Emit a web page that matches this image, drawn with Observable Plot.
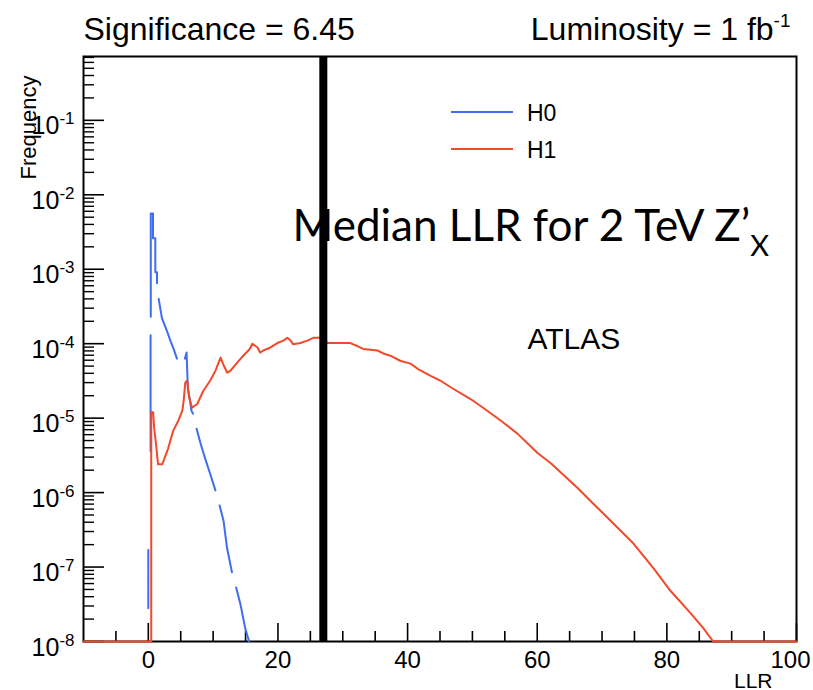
<!DOCTYPE html>
<html><head><meta charset="utf-8">
<script src="https://cdn.jsdelivr.net/npm/d3@7"></script>
<script src="https://cdn.jsdelivr.net/npm/@observablehq/plot@0.6"></script>
<style>
html,body{margin:0;padding:0;background:#fff;}
#wrap{position:relative;width:813px;height:690px;overflow:hidden;}
.legline{position:absolute;height:0;}
.legtxt{position:absolute;font-family:'Liberation Sans',Arial,sans-serif;font-size:23px;line-height:23px;color:#000;}
</style></head>
<body><div id="wrap"></div>
<script>
// ---- data ----
const seriesNames = ["H0", "H1"];
const seriesColors = ["#3f6df0", "#f2492b"];

// H0: null entries are the gaps visible in the drawn histogram
const h0LLR = [0.0, 0.0, null,
  0.35, 0.35, null,
  0.38, 0.38, 0.72, 0.72, 1.08, 1.08, 1.34, 1.34, null,
  1.6, 2.1, 2.88, 3.4, 3.9, 4.42, null,
  5.65, 5.9, 6.1, 6.35, 6.65, 6.9, null,
  7.45, 8.05, 8.75, 9.55, 10.35, null,
  11.0, 11.6, 12.15, 12.9, null,
  13.55, 14.2, 14.95, 15.55];
const h0Freq = [2.8e-8, 1.7e-7, null,
  3.6e-6, 1.3e-4, null,
  2.3e-4, 5.6e-3, 5.6e-3, 2.6e-3, 2.6e-3, 9.1e-4, 9.1e-4, 6.5e-4, null,
  4.0e-4, 2.2e-4, 1.48e-4, 1.1e-4, 8.5e-5, 6.3e-5, null,
  6.3e-5, 7.6e-5, 2.5e-5, 1.9e-5, 1.26e-5, 1.15e-5, null,
  7.2e-6, 4.6e-6, 2.9e-6, 1.78e-6, 1.07e-6, null,
  6.7e-7, 4.2e-7, 1.8e-7, 8.5e-8, null,
  5.3e-8, 3.2e-8, 1.5e-8, 1e-8];

const h1LLR = [-10, 0.45, 0.45, 0.75, 0.9, 1.25, 1.5, 2.15, 3.05, 3.85, 4.65, 5.25, 5.45, 5.7, 6.0,
  6.3, 6.75, 7.55, 8.45, 9.55, 10.35, 11.15, 11.55, 12.15, 12.65, 13.75, 14.65, 15.65, 16.05,
  16.85, 17.25, 17.75, 18.85, 19.9, 20.85, 21.45, 21.95, 22.35, 23.45, 24.55, 25.45, 26.65,
  27.65, 31.15, 32.25, 33.15, 35.35, 36.25, 37.35, 38.85, 40.45, 41.55, 43.55, 45.05, 46.65,
  49.65, 51.65, 54.35, 56.95, 60.05, 62.05, 66.15, 68.65, 70.85, 74.85, 77.95, 80.55, 83.65,
  85.65, 87.15, 100];
const h1Freq = [1e-8, 1e-8, 1.2e-5, 1.2e-5, 7.4e-6, 4e-6, 2.4e-6, 2.4e-6, 3.9e-6, 6.8e-6, 9.3e-6, 1.26e-5, 1.7e-5, 3.0e-5, 3.2e-5,
  1.9e-5, 1.38e-5, 1.55e-5, 2.3e-5, 3.2e-5, 4.3e-5, 6.5e-5, 5.3e-5, 4.1e-5, 4.3e-5, 5.6e-5, 6.9e-5, 8.5e-5, 1.0e-4,
  8.9e-5, 7.6e-5, 8.1e-5, 8.9e-5, 1.02e-4, 1.1e-4, 1.2e-4, 1.1e-4, 9.8e-5, 1.02e-4, 1.1e-4, 1.2e-4, 1.2e-4,
  1.02e-4, 1.02e-4, 9.3e-5, 8.5e-5, 8.1e-5, 7.4e-5, 6.9e-5, 5.9e-5, 5.4e-5, 4.6e-5, 3.7e-5, 3.2e-5, 2.6e-5,
  1.82e-5, 1.38e-5, 9.3e-6, 6.2e-6, 3.4e-6, 2.5e-6, 1.17e-6, 7.1e-7, 4.6e-7, 2.07e-7, 9.6e-8, 4.8e-8, 2.4e-8,
  1.5e-8, 1e-8, 1e-8];

const medianLLR = [27.0];

const yMajor = [1e-8, 1e-7, 1e-6, 1e-5, 1e-4, 1e-3, 1e-2, 1e-1];
const yBase = "10";
const yExp = ["-8", "-7", "-6", "-5", "-4", "-3", "-2", "-1"];
const xMajor = [0, 20, 40, 60, 80, 100];
const xMinor = [-5, 5, 10, 15, 25, 30, 35, 45, 50, 55, 65, 70, 75, 85, 90, 95];
const xLabels = ["0", "20", "40", "60", "80", "100"];

const titleLeft = "Significance = 6.45";
const titleRight = "Luminosity = 1 fb";
const titleRightSup = "-1";
const annotation = "Median LLR for 2 TeV Z\u2019";
const annotationSub = "X";
const experiment = "ATLAS";
const xTitle = "LLR";
const yTitle = "Frequency";

// ---- layout ----
const W = 813, H = 690, mL = 83, mR = 17, mT = 56, mB = 49;
const innerW = W - mL - mR, innerH = H - mT - mB;
const yMax = 0.72;
const yMinor = [];
for (const d of yMajor) for (let k = 2; k <= 9; k++) { const v = k * d; if (v <= yMax) yMinor.push(v); }

const h0 = h0LLR.map((x, i) => ({x, y: h0Freq[i]}));
const h1 = h1LLR.map((x, i) => ({x, y: h1Freq[i]}));

const SANS = "'Liberation Sans', Arial, Helvetica, sans-serif";

const chart = Plot.plot({
  width: W, height: H,
  marginLeft: mL, marginRight: mR, marginTop: mT, marginBottom: mB,
  x: {domain: [-10, 100], axis: null},
  y: {type: "log", domain: [1e-8, yMax], axis: null},
  style: {fontFamily: SANS, background: "white", color: "black", overflow: "visible"},
  marks: [
    Plot.frame({stroke: "black", strokeWidth: 2}),
    Plot.tickY(yMinor, {y: d => d, insetRight: innerW - 11, stroke: "black", strokeWidth: 1.4}),
    Plot.tickY(yMajor, {y: d => d, insetRight: innerW - 21, stroke: "black", strokeWidth: 1.6}),
    Plot.tickX(xMinor, {x: d => d, insetTop: innerH - 10, stroke: "black", strokeWidth: 1.6}),
    Plot.tickX(xMajor, {x: d => d, insetTop: innerH - 18, stroke: "black", strokeWidth: 1.6}),
    Plot.line(h0, {x: "x", y: "y", stroke: seriesColors[0], strokeWidth: 2}),
    Plot.line(h1, {x: "x", y: "y", stroke: seriesColors[1], strokeWidth: 2}),
    Plot.ruleX(medianLLR, {x: d => d, stroke: "black", strokeWidth: 8}),
    Plot.text(yMajor, {y: d => d, text: () => yBase, frameAnchor: "left", dx: -9, dy: 14, textAnchor: "end", lineAnchor: "bottom", fontSize: 25}),
    Plot.text(xMajor, {x: d => d, text: (d, i) => xLabels[i], frameAnchor: "bottom", dy: 26, lineAnchor: "bottom", fontSize: 24}),
    Plot.text([xTitle], {text: d => d, frameAnchor: "bottom-right", dx: -24, dy: 46, textAnchor: "end", lineAnchor: "bottom", fontSize: 21}),
    Plot.text([yTitle], {text: d => d, frameAnchor: "top-left", dx: -48, dy: 19, rotate: -90, textAnchor: "end", lineAnchor: "bottom", fontSize: 22}),
    Plot.text([titleLeft], {text: d => d, frameAnchor: "top-left", dx: 0, dy: -17, textAnchor: "start", lineAnchor: "bottom", fontSize: 32}),
    Plot.text([titleRight], {text: d => d, frameAnchor: "top-right", dx: -6, dy: -17, textAnchor: "end", lineAnchor: "bottom", fontSize: 32}),
    Plot.text([annotation], {text: d => d, frameAnchor: "top-left", dx: 209, dy: 184, textAnchor: "start", lineAnchor: "bottom", fontSize: 44, fontFamily: "Lato, 'Open Sans', sans-serif"}),
    Plot.text([experiment], {text: d => d, frameAnchor: "top-left", dx: 444, dy: 292, textAnchor: "start", lineAnchor: "bottom", fontSize: 30})
  ]
});

// superscripts / subscripts as tspans (texts found by their content)
const allTexts = Array.from(chart.querySelectorAll("text"));
const yLabelNodes = allTexts.filter(t => t.textContent === yBase);
yLabelNodes.forEach((t, i) => {
  d3.select(t).append("tspan").attr("font-size", 17).attr("dy", -10).text(yExp[i]);
});
const trNode = allTexts.find(t => t.textContent === titleRight);
if (trNode) d3.select(trNode).append("tspan").attr("font-size", 19).attr("dy", -13).text(titleRightSup);
const anNode = allTexts.find(t => t.textContent === annotation);
if (anNode) d3.select(anNode).append("tspan").attr("font-size", 29).attr("dy", 15).text(annotationSub);
// keep the last x label inside the picture
const lastX = allTexts.find(t => t.textContent === xLabels[xLabels.length - 1]);
if (lastX) lastX.setAttribute("dx", -6);

const wrap = document.getElementById("wrap");
wrap.append(chart);

// legend
const legX = 451, legW = 62, legTxt = 527, legY = [112, 149];
seriesNames.forEach((name, i) => {
  const ln = document.createElement("div");
  ln.className = "legline";
  ln.style.left = legX + "px"; ln.style.width = legW + "px";
  ln.style.top = (legY[i] - 1) + "px";
  ln.style.borderTop = (i === 0 ? 2.5 : 2) + "px solid " + seriesColors[i];
  wrap.append(ln);
  const tx = document.createElement("div");
  tx.className = "legtxt";
  tx.style.left = legTxt + "px"; tx.style.top = (legY[i] + 1 - 11.5) + "px";
  tx.textContent = name;
  wrap.append(tx);
});
</script>
</body></html>
